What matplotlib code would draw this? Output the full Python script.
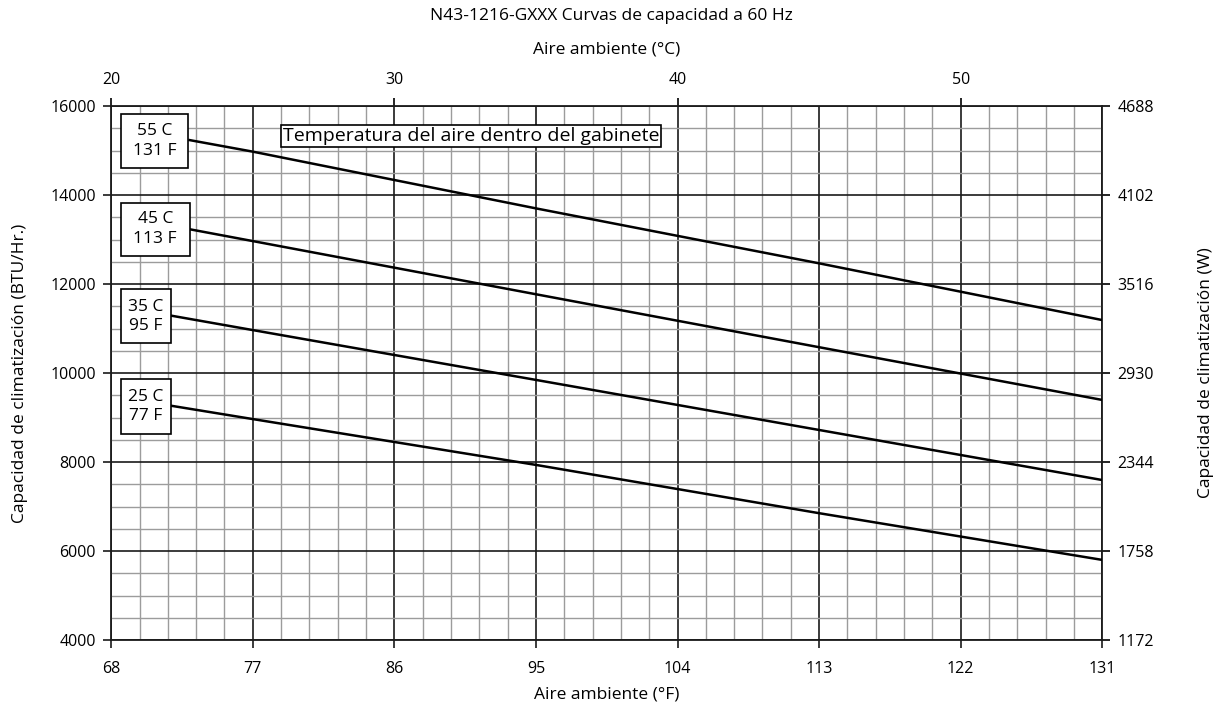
import numpy as np
import matplotlib
matplotlib.use("Agg")
import matplotlib.pyplot as plt
from matplotlib.patches import Rectangle
from matplotlib.ticker import FixedLocator

plt.rcParams['font.family'] = ['Open Sans', 'DejaVu Sans']

# ---- data ----
title = "N43-1216-GXXX Curvas de capacidad a 60 Hz"
x_major_F = [68, 77, 86, 95, 104, 113, 122, 131]
y_major = [4000, 6000, 8000, 10000, 12000, 14000, 16000]
top_ticks_C = [20, 30, 40, 50]
right_ticks_W = [1172, 1758, 2344, 2930, 3516, 4102, 4688]

series_labels = ["55 C\n131 F", "45 C\n113 F", "35 C\n95 F", "25 C\n77 F"]
x_55 = [72.9, 77, 95, 113, 131]
y_55 = [15240, 14975, 13700, 12465, 11190]
x_45 = [73.0, 77, 95, 113, 131]
y_45 = [13230, 12965, 11770, 10580, 9395]
x_35 = [71.8, 77, 95, 113, 131]
y_35 = [11290, 10965, 9845, 8720, 7595]
x_25 = [71.8, 77, 95, 113, 131]
y_25 = [9265, 8965, 7935, 6850, 5800]
series_x = [x_55, x_45, x_35, x_25]
series_y = [y_55, y_45, y_35, y_25]

# label boxes (x0, x1, y0, y1) in data units
boxes = [(68.6, 72.9, 14600, 15815),
         (68.6, 73.0, 12630, 13830),
         (68.6, 71.8, 10665, 11880),
         (68.6, 71.8, 8630, 9860)]
note = "Temperatura del aire dentro del gabinete"

W_PER_BTU = 0.293

fig = plt.figure(figsize=(12.22, 7.05), dpi=100)
ax = fig.add_axes([0.091, 0.0922, 0.811, 0.7574])

ax.set_xlim(68, 131)
ax.set_ylim(4000, 16000)
ax.xaxis.set_major_locator(FixedLocator(x_major_F))
ax.xaxis.set_minor_locator(FixedLocator(np.arange(68, 131.01, 1.8)))
ax.yaxis.set_major_locator(FixedLocator(y_major))
ax.yaxis.set_minor_locator(FixedLocator(np.arange(4000, 16001, 500)))

ax.grid(which='minor', color='#9c9c9c', lw=1.0, zorder=1)
ax.grid(which='major', color='#1a1a1a', lw=1.2, zorder=1)
ax.set_axisbelow(True)

for s in ax.spines.values():
    s.set_color('#1a1a1a')
    s.set_linewidth(1.3)

ax.tick_params(which='major', direction='out', length=6, width=1.2, color='#1a1a1a',
               labelsize=11.5, pad=9)
ax.tick_params(which='minor', length=0)
ax.tick_params(axis='y', pad=5)

for xs, ys in zip(series_x, series_y):
    ax.plot(xs, ys, color='black', lw=1.8, zorder=3, solid_capstyle='butt')

for (x0, x1, y0, y1), lab in zip(boxes, series_labels):
    ax.add_patch(Rectangle((x0, y0), x1 - x0, y1 - y0, facecolor='white',
                           edgecolor='black', lw=1.2, zorder=4))
    ax.text((x0 + x1) / 2, (y0 + y1) / 2, lab, ha='center', va='center',
            fontsize=12.5, zorder=5, linespacing=1.3)

ax.text(78.9, 15330, note, ha='left', va='center', fontsize=14, zorder=5,
        bbox=dict(boxstyle='square,pad=0.1', facecolor='white', edgecolor='black', lw=1.2))

ax.set_xlabel("Aire ambiente (°F)", fontsize=12.5, labelpad=7)
ax.set_ylabel("Capacidad de climatización (BTU/Hr.)", fontsize=12.5, labelpad=16)

top = ax.secondary_xaxis('top', functions=(lambda f: (f - 32) / 1.8, lambda c: c * 1.8 + 32))
top.set_xticks(top_ticks_C)
top.tick_params(direction='out', length=6, width=1.2, labelsize=11.5, pad=7)
top.set_xlabel("Aire ambiente (°C)", fontsize=12.5, labelpad=13)
top.spines['top'].set_visible(False)

right = ax.secondary_yaxis('right', functions=(lambda b: b * W_PER_BTU, lambda w: w / W_PER_BTU))
right.set_yticks(right_ticks_W)
right.tick_params(direction='out', length=6, width=1.2, labelsize=11.5, pad=5)
right.set_ylabel("Capacidad de climatización (W)", fontsize=12.5, labelpad=32)
right.spines['right'].set_visible(False)

fig.text(0.5, 0.978, title, ha='center', va='center', fontsize=12.5)

fig.savefig("out.png", dpi=100)
